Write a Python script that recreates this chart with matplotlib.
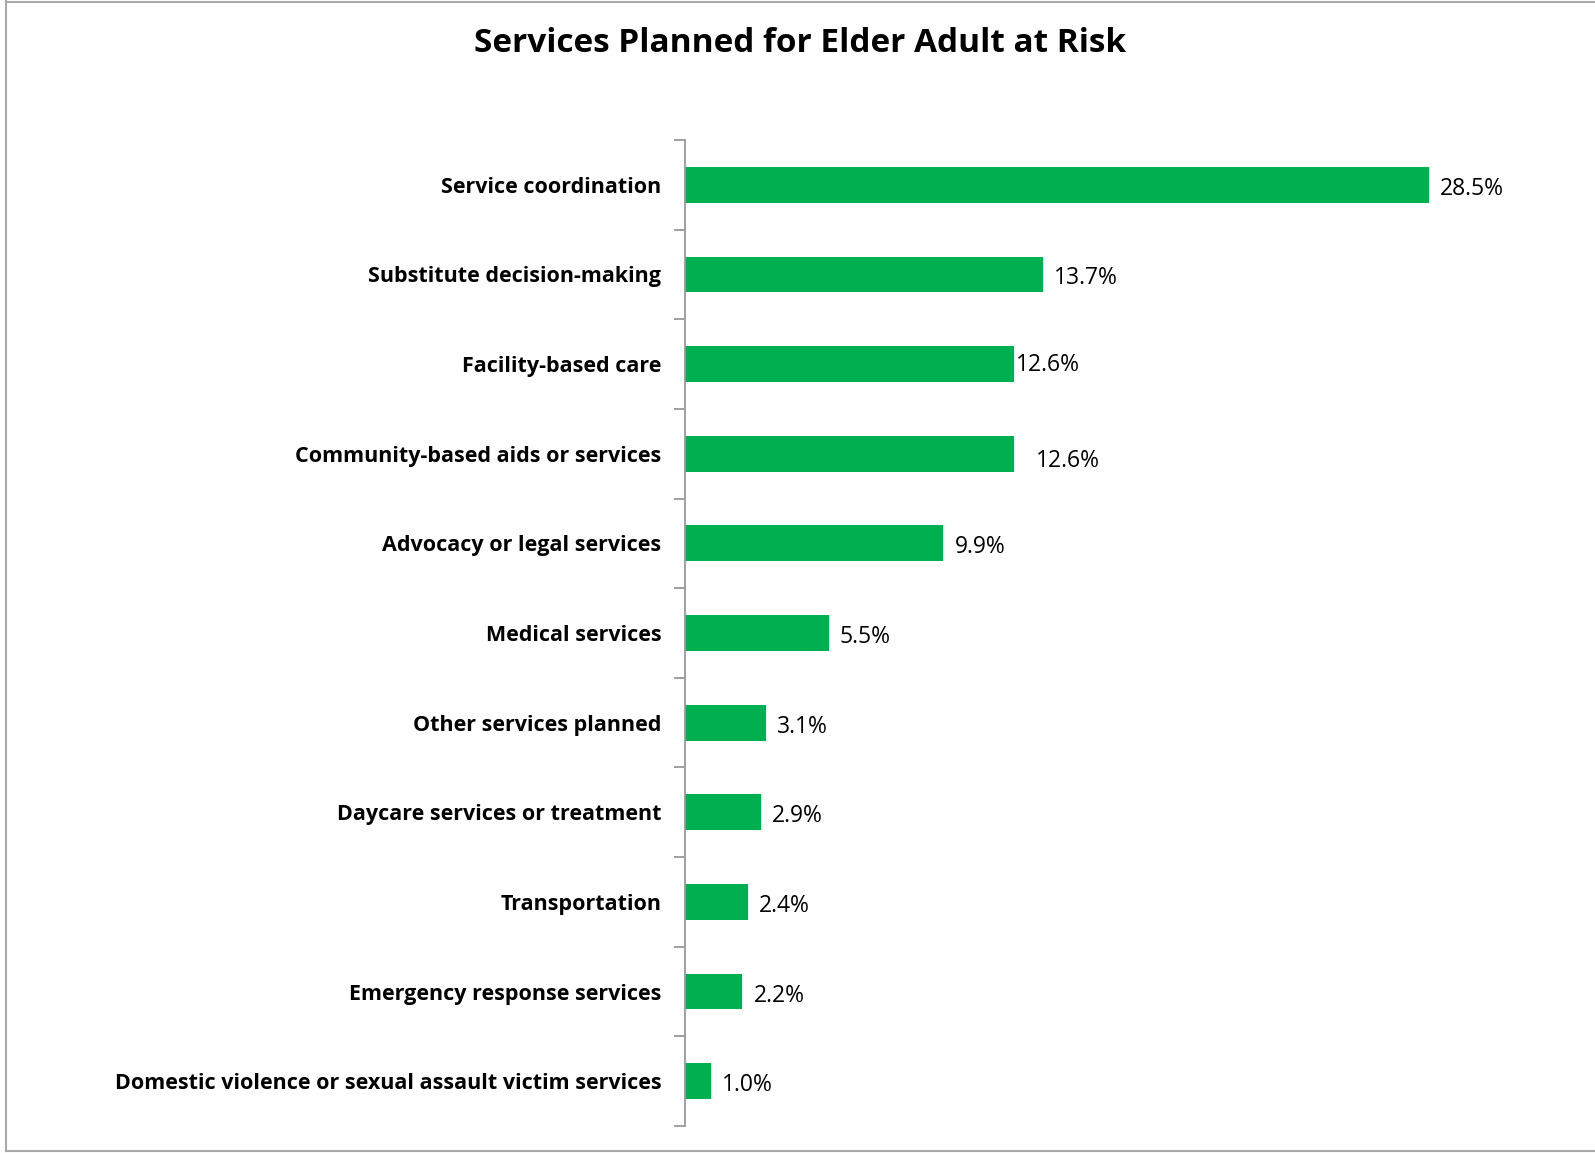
import matplotlib
matplotlib.use('Agg')
import matplotlib.pyplot as plt
import numpy as np

categories = ['Service coordination', 'Substitute decision-making', 'Facility-based care',
              'Community-based aids or services', 'Advocacy or legal services', 'Medical services',
              'Other services planned', 'Daycare services or treatment', 'Transportation',
              'Emergency response services', 'Domestic violence or sexual assault victim services']
values = [28.5, 13.7, 12.6, 12.6, 9.9, 5.5, 3.1, 2.9, 2.4, 2.2, 1.0]
value_labels = ['28.5%', '13.7%', '12.6%', '12.6%', '9.9%', '5.5%', '3.1%', '2.9%', '2.4%', '2.2%', '1.0%']

# label nudges (px) - the reference has a couple of labels slightly off
label_dx = [11, 11, 2, 22, 11, 11, 11, 11, 11, 11, 11]
label_dy = [-4, -4, -1, -7, -4, -4, -4, -4, -4, -4, -4]

plt.rcParams['font.family'] = ['Open Sans', 'DejaVu Sans']

fig = plt.figure(figsize=(15.95, 11.53), dpi=100)
ax = fig.add_axes([685/1595, 1-1126/1153, 875/1595, (1126-140)/1153])

y = np.arange(len(categories))
ax.barh(y, values, height=0.4, color='#00B050')
ax.set_ylim(len(categories)-0.5, -0.5)
ax.set_xlim(0, 33.52)

for i, (v, lab) in enumerate(zip(values, value_labels)):
    ax.annotate(lab, (v, i), xytext=(label_dx[i], label_dy[i]), textcoords='offset pixels',
                ha='left', va='center', fontsize=16.5, color='black')

ax.set_yticks(np.arange(-0.5, len(categories)), labels=[])
ax.set_yticks(y, labels=categories, minor=True)
ax.tick_params(axis='y', which='major', length=8, width=1.3, color='#999999', direction='out')
ax.tick_params(axis='y', which='minor', length=0, pad=17, labelsize=15.5)
for t in ax.get_yticklabels(minor=True):
    t.set_fontweight('bold')
ax.set_xticks([])
for s in ['top', 'right', 'bottom']:
    ax.spines[s].set_visible(False)
ax.spines['left'].set_color('#999999')
ax.spines['left'].set_linewidth(1.3)

fig.text(800/1595, 1-43/1153, 'Services Planned for Elder Adult at Risk', ha='center', va='center',
         fontsize=24, fontweight='bold')

# outer chart border (left, top, bottom)
fig.add_artist(plt.Line2D([6/1595, 6/1595], [1-1/1153, 1-1151/1153], color='#aaaaaa', lw=1.5,
                          transform=fig.transFigure))
fig.add_artist(plt.Line2D([6/1595, 1], [1-1.5/1153, 1-1.5/1153], color='#aaaaaa', lw=1.5,
                          transform=fig.transFigure))
fig.add_artist(plt.Line2D([6/1595, 1], [1-1151/1153, 1-1151/1153], color='#aaaaaa', lw=1.5,
                          transform=fig.transFigure))

plt.savefig('out.png', dpi=100)
